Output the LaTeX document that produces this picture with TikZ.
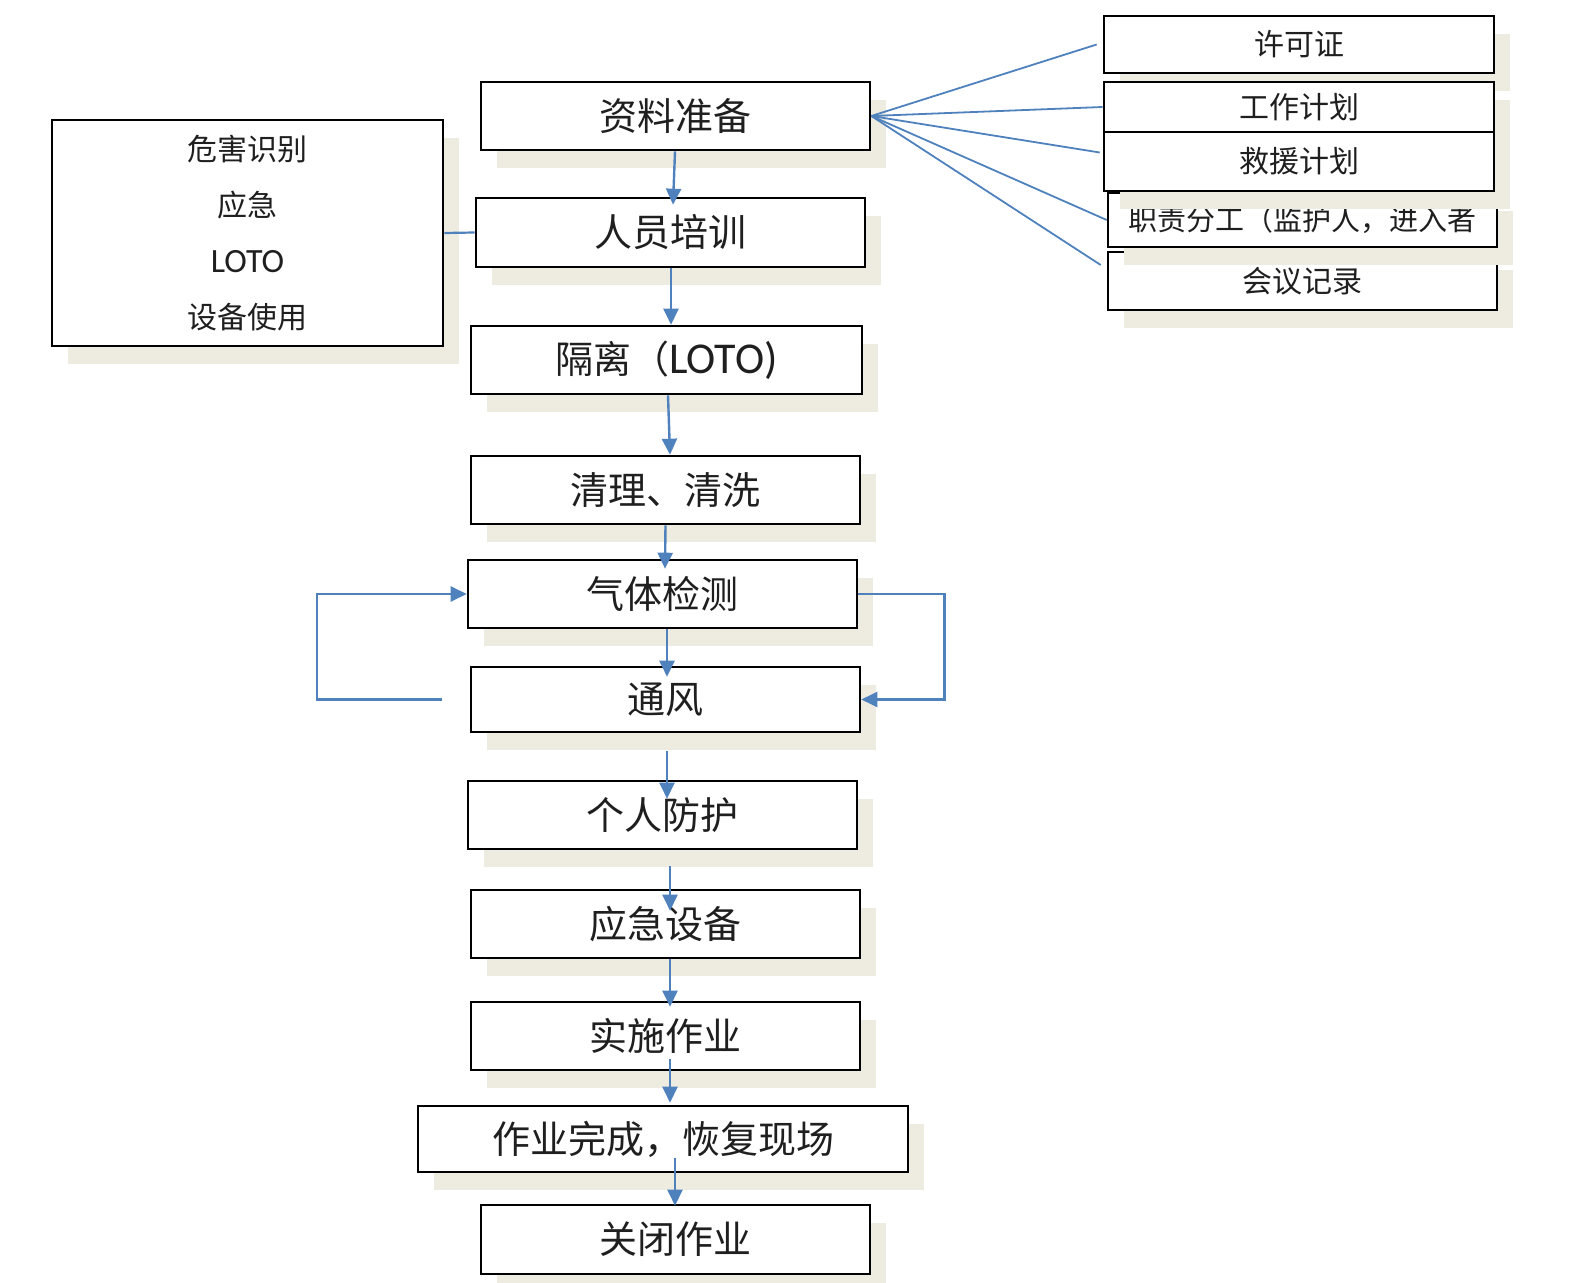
\documentclass[tikz,border=0pt]{standalone}
\usepackage{fontspec}
\setmainfont{Carlito}
\newfontfamily\cjk{Noto Sans CJK SC}
\usetikzlibrary{arrows.meta,calc}
\definecolor{flowblue}{HTML}{4F81BD}
\definecolor{shdcol}{HTML}{EEECE1}
\definecolor{txtcol}{HTML}{1F1F1F}
\tikzset{
  shd/.style={fill=shdcol},
  bx/.style={draw=black, line width=1.3pt, fill=white, inner sep=0pt, text=txtcol, align=center},
  bigtxt/.style={font=\cjk\fontsize{19}{22}\selectfont},
  smalltxt/.style={font=\cjk\fontsize{15}{18}\selectfont},
  flow/.style={draw=flowblue, line width=1.2pt, -{Triangle[width=7.5pt,length=8pt]}},
  link/.style={draw=flowblue, line width=1.1pt},
  fan/.style={draw=flowblue, line width=0.9pt}
}
\newcommand\myshadow[4]{\fill[shd] ({#1+16},{#2+18}) rectangle ({#3+16},{#4+18});}
\newcommand\mynode[7]{\node[bx,#1,minimum width={(#5-#3)*0.5pt},minimum height={(#6-#4)*0.5pt}] (#2) at ({(#3+#5)/2},{(#4+#6)/2}) {#7};}
\newcommand\myflowbox[7]{\myshadow{#3}{#4}{#5}{#6}\mynode{#1}{#2}{#3}{#4}{#5}{#6}{#7}}
\begin{document}
\begin{tikzpicture}[x=0.5pt,y=-0.5pt]
\useasboundingbox (0,0) rectangle (1574,1283);
% main column
\myflowbox{bigtxt}{zl}{481}{82}{870}{150}{资料准备}
\myflowbox{bigtxt}{px}{476}{198}{865}{267}{人员培训}
\myflowbox{bigtxt}{gl}{471}{326}{862}{394}{隔离（{\rmfamily\fontsize{22}{24}\selectfont LOTO)}}
\myflowbox{bigtxt}{ql}{471}{456}{860}{524}{清理、清洗}
\myflowbox{bigtxt}{qt}{468}{560}{857}{628}{气体检测}
\myflowbox{bigtxt}{tf}{471}{667}{860}{732}{通风}
\myflowbox{bigtxt}{gr}{468}{781}{857}{849}{个人防护}
\myflowbox{bigtxt}{yj}{471}{890}{860}{958}{应急设备}
\myflowbox{bigtxt}{ss}{471}{1002}{860}{1070}{实施作业}
\myflowbox{bigtxt}{wc}{418}{1106}{908}{1172}{作业完成，恢复现场}
\myflowbox{bigtxt}{gb}{481}{1205}{870}{1274}{关闭作业}
% left box
\myflowbox{font=\cjk\fontsize{15}{28}\selectfont}{lb}{52}{120}{443}{346}{危害识别\\应急\\{\rmfamily\fontsize{17}{28}\selectfont LOTO}\\设备使用}
% right boxes (bottom first so shadows of upper boxes overlap)
\myflowbox{smalltxt}{hy}{1108}{252}{1497}{310}{会议记录}
\myflowbox{font=\cjk\fontsize{14.5}{18}\selectfont}{zz}{1108}{193}{1497}{247}{职责分工（监护人，进入者}
\myshadow{1104}{16}{1494}{73}
\myshadow{1104}{82}{1494}{132}
\myshadow{1104}{132}{1494}{191}
\mynode{smalltxt}{xk}{1104}{16}{1494}{73}{许可证}
\mynode{smalltxt}{gj}{1104}{82}{1494}{132}{工作计划}
\mynode{smalltxt}{jy}{1104}{132}{1494}{191}{救援计划}
% fan lines
\draw[fan] (zl.east) -- ([xshift=-3pt]xk.west);
\draw[fan] (zl.east) -- (gj.west);
\draw[fan] (zl.east) -- ([shift={(-1.5pt,4.5pt)}]jy.west);
\draw[fan] (zl.east) -- (zz.west);
\draw[fan] (zl.east) -- ([shift={(-3pt,8pt)}]hy.west);
% left box link
\draw[link] (lb.east) -- (px.west);
% flow arrows
\draw[flow] ($(zl.south)+(-0.5,0)$) -- ($(px.north)+(2.5,8)$);
\draw[flow] ($(px.south)+(0.5,0)$) -- ($(gl.north)+(4.5,0)$);
\draw[flow] ($(gl.south)+(1.5,0)$) -- ($(ql.north)+(4.5,0)$);
\draw[flow] ($(ql.south)+(0,0)$) -- ($(qt.north)+(2.5,10)$);
\draw[flow] ($(qt.south)+(4.5,0)$) -- ($(tf.north)+(1.5,11)$);
\draw[flow] ($(tf.south)+(1.5,18)$) -- ($(gr.north)+(4.5,19)$);
\draw[flow] ($(gr.south)+(7.5,16)$) -- ($(yj.north)+(4.5,22)$);
\draw[flow] ($(yj.south)+(4.5,0)$) -- ($(ss.north)+(4.5,6)$);
\draw[flow] ($(ss.south)+(4.5,-12)$) -- ($(wc.north)+(7,-2)$);
\draw[flow] ($(wc.south)+(12,-15)$) -- ($(gb.north)+(-0.5,2)$);
% loops
\draw[flow] ([xshift=-14pt]tf.west) -- ++(-125,0) |- (qt.west);
\draw[flow] (qt.east) -- ++(86,0) |- (tf.east);
\end{tikzpicture}
\end{document}
